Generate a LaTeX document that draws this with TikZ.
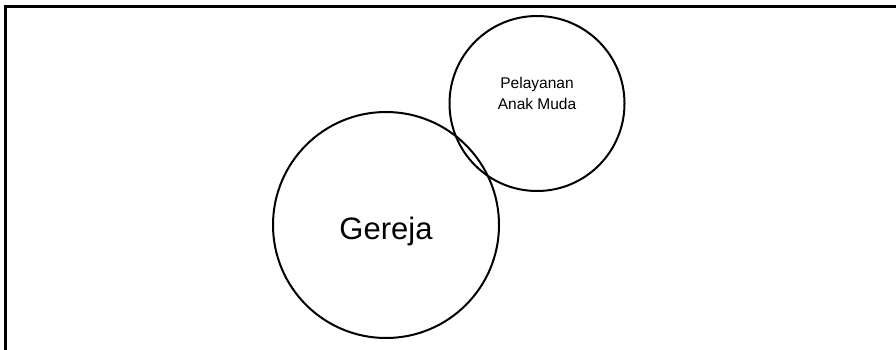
\documentclass[tikz,border=0pt]{standalone}
\usepackage{fontspec}
\setmainfont{Liberation Sans}
\begin{document}
\begin{tikzpicture}[x=1pt,y=-1pt,
  ring/.style={circle,draw,line width=2pt,inner sep=0pt},
  label/.style={align=center,inner sep=0pt}]
\useasboundingbox[fill=white] (0,0) rectangle (896,350);
% frame: top and left edges
\coordinate (tl) at (5.5,6.5);
\coordinate (tr) at (897,6.5);
\coordinate (bl) at (5.5,351);
\draw[line width=2.6pt] (bl) -- (tl) -- (tr);
% the two circles
\node[ring,minimum size=226pt] (gereja) at (386,225) {};
\node[ring,minimum size=175pt] (muda) at (537,103.5) {};
% their texts
\node[label,font=\fontsize{31}{36}\selectfont] (tg) at (386,231) {Gereja};
\node[label,font=\fontsize{15.5}{21}\selectfont] (tm) at (537,93) {Pelayanan\\Anak Muda};
\end{tikzpicture}
\end{document}
